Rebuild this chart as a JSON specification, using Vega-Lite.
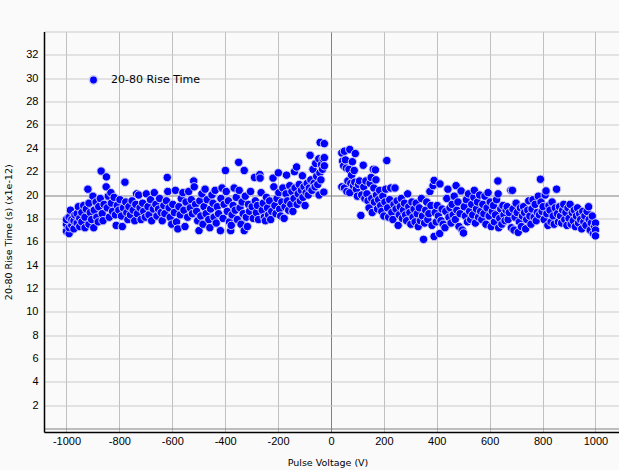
{"$schema":"https://vega.github.io/schema/vega-lite/v6.json","width":575,"height":400.5,"autosize":"none","padding":{"left":44,"top":31.5,"right":0,"bottom":38},"background":"#fafafa","config":{"view":{"stroke":null},"font":"DejaVu Sans"},
"data":{"values":[
{"v":-1000,"t":16.9},{"v":-1000,"t":17.5},{"v":-1000,"t":17.9},{"v":-990,"t":16.7},{"v":-990,"t":17.2},{"v":-990,"t":18.1},{"v":-985,"t":18.7},{"v":-980,"t":17.4},{"v":-980,"t":17.9},{"v":-972,"t":17.1},{"v":-972,"t":17.8},{"v":-968,"t":18.3},{"v":-960,"t":17.6},{"v":-960,"t":18.4},{"v":-955,"t":19.0},{"v":-950,"t":17.3},{"v":-950,"t":18.0},{"v":-942,"t":17.7},{"v":-942,"t":18.5},{"v":-935,"t":19.1},{"v":-930,"t":17.2},{"v":-930,"t":18.1},{"v":-925,"t":18.8},{"v":-919,"t":20.5},{"v":-915,"t":17.5},{"v":-915,"t":19.3},{"v":-910,"t":18.5},{"v":-905,"t":17.9},{"v":-900,"t":19.9},{"v":-897,"t":17.2},{"v":-895,"t":18.7},{"v":-888,"t":19.4},{"v":-885,"t":18.1},{"v":-880,"t":17.7},{"v":-878,"t":19.0},{"v":-872,"t":19.7},{"v":-869,"t":22.05},{"v":-865,"t":18.4},{"v":-862,"t":17.8},{"v":-858,"t":19.2},{"v":-850,"t":20.7},{"v":-849,"t":21.55},{"v":-846,"t":18.9},{"v":-842,"t":19.9},{"v":-838,"t":18.1},{"v":-832,"t":20.2},{"v":-830,"t":19.3},{"v":-826,"t":18.6},{"v":-820,"t":19.8},{"v":-815,"t":18.3},{"v":-812,"t":17.4},{"v":-808,"t":19.1},{"v":-802,"t":18.7},{"v":-798,"t":19.6},{"v":-792,"t":18.2},{"v":-789,"t":17.3},{"v":-785,"t":18.9},{"v":-779,"t":21.1},{"v":-776,"t":19.4},{"v":-772,"t":18.5},{"v":-768,"t":17.9},{"v":-764,"t":19.0},{"v":-758,"t":18.3},{"v":-752,"t":19.5},{"v":-748,"t":18.7},{"v":-742,"t":17.8},{"v":-738,"t":19.2},{"v":-735,"t":20.1},{"v":-732,"t":18.4},{"v":-727,"t":20.0},{"v":-722,"t":18.9},{"v":-718,"t":17.9},{"v":-712,"t":19.3},{"v":-708,"t":18.6},{"v":-702,"t":18.1},{"v":-698,"t":20.1},{"v":-692,"t":19.0},{"v":-688,"t":18.3},{"v":-682,"t":19.6},{"v":-678,"t":17.8},{"v":-672,"t":18.8},{"v":-668,"t":20.2},{"v":-662,"t":19.2},{"v":-658,"t":18.2},{"v":-652,"t":18.8},{"v":-648,"t":19.7},{"v":-642,"t":18.5},{"v":-638,"t":17.8},{"v":-632,"t":19.1},{"v":-628,"t":18.4},{"v":-622,"t":19.5},{"v":-619,"t":21.5},{"v":-617,"t":20.3},{"v":-612,"t":18.9},{"v":-608,"t":18.1},{"v":-602,"t":17.5},{"v":-598,"t":19.2},{"v":-592,"t":18.5},{"v":-588,"t":20.4},{"v":-584,"t":17.7},{"v":-579,"t":17.1},{"v":-575,"t":19.0},{"v":-570,"t":18.3},{"v":-566,"t":19.7},{"v":-560,"t":20.2},{"v":-556,"t":18.7},{"v":-552,"t":17.3},{"v":-548,"t":19.4},{"v":-542,"t":18.1},{"v":-538,"t":20.3},{"v":-532,"t":18.9},{"v":-528,"t":19.6},{"v":-524,"t":18.4},{"v":-519,"t":21.2},{"v":-517,"t":20.7},{"v":-512,"t":19.2},{"v":-508,"t":18.6},{"v":-504,"t":17.8},{"v":-499,"t":16.95},{"v":-496,"t":19.5},{"v":-492,"t":18.2},{"v":-488,"t":20.1},{"v":-484,"t":17.5},{"v":-480,"t":19.0},{"v":-476,"t":20.5},{"v":-472,"t":18.4},{"v":-468,"t":19.6},{"v":-462,"t":17.9},{"v":-458,"t":17.2},{"v":-455,"t":18.8},{"v":-450,"t":20.0},{"v":-446,"t":19.3},{"v":-442,"t":18.1},{"v":-438,"t":20.4},{"v":-434,"t":17.6},{"v":-430,"t":19.0},{"v":-425,"t":18.4},{"v":-418,"t":16.95},{"v":-416,"t":19.7},{"v":-412,"t":20.6},{"v":-408,"t":18.0},{"v":-404,"t":19.2},{"v":-399,"t":22.1},{"v":-396,"t":20.3},{"v":-392,"t":18.6},{"v":-388,"t":19.5},{"v":-384,"t":17.7},{"v":-379,"t":16.95},{"v":-377,"t":17.4},{"v":-374,"t":18.3},{"v":-370,"t":19.1},{"v":-366,"t":20.6},{"v":-362,"t":18.7},{"v":-358,"t":19.8},{"v":-354,"t":17.9},{"v":-349,"t":22.8},{"v":-347,"t":20.4},{"v":-344,"t":18.9},{"v":-340,"t":17.5},{"v":-336,"t":19.4},{"v":-332,"t":18.4},{"v":-328,"t":22.1},{"v":-328,"t":16.95},{"v":-324,"t":19.9},{"v":-320,"t":18.1},{"v":-316,"t":17.3},{"v":-312,"t":19.2},{"v":-308,"t":18.6},{"v":-304,"t":20.3},{"v":-298,"t":19.0},{"v":-294,"t":18.0},{"v":-289,"t":21.5},{"v":-286,"t":19.5},{"v":-282,"t":18.5},{"v":-278,"t":19.1},{"v":-274,"t":17.9},{"v":-269,"t":21.75},{"v":-268,"t":21.45},{"v":-264,"t":20.2},{"v":-260,"t":18.7},{"v":-256,"t":19.3},{"v":-252,"t":18.1},{"v":-248,"t":17.8},{"v":-244,"t":19.8},{"v":-240,"t":18.9},{"v":-236,"t":18.3},{"v":-232,"t":19.5},{"v":-228,"t":17.9},{"v":-224,"t":18.6},{"v":-219,"t":21.45},{"v":-216,"t":20.7},{"v":-212,"t":19.1},{"v":-208,"t":18.4},{"v":-204,"t":19.7},{"v":-199,"t":21.9},{"v":-197,"t":20.2},{"v":-194,"t":18.8},{"v":-190,"t":18.2},{"v":-186,"t":19.4},{"v":-182,"t":20.6},{"v":-177,"t":18.0},{"v":-174,"t":19.0},{"v":-170,"t":20.1},{"v":-168,"t":21.7},{"v":-165,"t":19.5},{"v":-160,"t":18.7},{"v":-156,"t":20.8},{"v":-152,"t":19.2},{"v":-148,"t":20.3},{"v":-144,"t":18.6},{"v":-140,"t":19.7},{"v":-138,"t":22.0},{"v":-136,"t":20.6},{"v":-130,"t":22.4},{"v":-128,"t":19.2},{"v":-124,"t":20.1},{"v":-120,"t":20.9},{"v":-116,"t":19.5},{"v":-112,"t":20.4},{"v":-108,"t":21.65},{"v":-106,"t":19.8},{"v":-102,"t":20.7},{"v":-98,"t":19.1},{"v":-94,"t":20.2},{"v":-90,"t":21.0},{"v":-86,"t":20.0},{"v":-82,"t":20.6},{"v":-79,"t":23.4},{"v":-76,"t":21.3},{"v":-72,"t":20.4},{"v":-68,"t":22.2},{"v":-64,"t":21.0},{"v":-60,"t":20.7},{"v":-58,"t":22.7},{"v":-54,"t":21.6},{"v":-50,"t":20.9},{"v":-46,"t":23.1},{"v":-45,"t":20.0},{"v":-42,"t":21.9},{"v":-41,"t":24.5},{"v":-38,"t":21.3},{"v":-36,"t":22.6},{"v":-32,"t":22.2},{"v":-30,"t":23.1},{"v":-27,"t":20.25},{"v":-25,"t":24.4},{"v":-25,"t":23.2},{"v":-25,"t":22.5},
{"v":41,"t":23.6},{"v":41,"t":20.7},{"v":44,"t":22.9},{"v":48,"t":22.5},{"v":51,"t":23.75},{"v":51,"t":20.6},{"v":55,"t":23.0},{"v":58,"t":22.3},{"v":60,"t":20.3},{"v":64,"t":21.2},{"v":68,"t":22.2},{"v":71,"t":23.9},{"v":71,"t":20.2},{"v":75,"t":21.0},{"v":78,"t":21.7},{"v":81,"t":22.85},{"v":85,"t":20.8},{"v":88,"t":22.1},{"v":90,"t":21.1},{"v":92,"t":23.55},{"v":96,"t":20.5},{"v":100,"t":19.9},{"v":104,"t":20.9},{"v":108,"t":21.2},{"v":113,"t":18.25},{"v":116,"t":20.0},{"v":122,"t":22.55},{"v":124,"t":20.7},{"v":128,"t":19.7},{"v":132,"t":21.2},{"v":136,"t":20.1},{"v":140,"t":19.5},{"v":144,"t":18.9},{"v":148,"t":21.0},{"v":152,"t":21.5},{"v":154,"t":19.7},{"v":156,"t":18.5},{"v":160,"t":22.2},{"v":162,"t":20.6},{"v":164,"t":19.4},{"v":168,"t":22.15},{"v":170,"t":21.3},{"v":172,"t":20.0},{"v":176,"t":18.8},{"v":180,"t":19.6},{"v":184,"t":20.4},{"v":188,"t":19.1},{"v":192,"t":18.6},{"v":196,"t":19.9},{"v":200,"t":18.2},{"v":204,"t":19.4},{"v":207,"t":20.5},{"v":211,"t":22.95},{"v":214,"t":18.9},{"v":218,"t":18.1},{"v":222,"t":19.6},{"v":226,"t":20.6},{"v":230,"t":18.5},{"v":234,"t":17.9},{"v":238,"t":19.2},{"v":242,"t":20.6},{"v":246,"t":18.8},{"v":250,"t":19.5},{"v":254,"t":17.4},{"v":258,"t":18.3},{"v":262,"t":19.0},{"v":266,"t":19.7},{"v":270,"t":18.0},{"v":274,"t":18.7},{"v":278,"t":19.3},{"v":282,"t":18.3},{"v":286,"t":17.8},{"v":290,"t":20.1},{"v":294,"t":19.0},{"v":298,"t":18.5},{"v":302,"t":17.5},{"v":306,"t":19.4},{"v":310,"t":18.1},{"v":314,"t":18.8},{"v":318,"t":17.7},{"v":322,"t":19.3},{"v":326,"t":18.4},{"v":330,"t":17.3},{"v":334,"t":18.9},{"v":338,"t":17.8},{"v":342,"t":19.7},{"v":346,"t":18.2},{"v":350,"t":16.2},{"v":354,"t":17.6},{"v":358,"t":18.7},{"v":362,"t":19.4},{"v":366,"t":17.9},{"v":370,"t":18.4},{"v":374,"t":20.3},{"v":378,"t":19.1},{"v":382,"t":17.4},{"v":386,"t":20.8},{"v":390,"t":21.25},{"v":390,"t":16.45},{"v":394,"t":18.5},{"v":398,"t":17.7},{"v":402,"t":19.1},{"v":406,"t":18.2},{"v":411,"t":16.7},{"v":412,"t":20.95},{"v":416,"t":17.8},{"v":420,"t":18.8},{"v":424,"t":17.5},{"v":431,"t":17.2},{"v":434,"t":18.6},{"v":438,"t":19.7},{"v":442,"t":20.5},{"v":446,"t":18.1},{"v":450,"t":18.9},{"v":454,"t":17.6},{"v":458,"t":19.2},{"v":462,"t":18.3},{"v":466,"t":19.9},{"v":470,"t":17.9},{"v":473,"t":20.8},{"v":476,"t":18.7},{"v":480,"t":19.4},{"v":484,"t":17.3},{"v":488,"t":18.4},{"v":492,"t":20.35},{"v":496,"t":17.0},{"v":501,"t":16.75},{"v":504,"t":19.0},{"v":508,"t":18.2},{"v":512,"t":19.6},{"v":516,"t":17.7},{"v":520,"t":20.1},{"v":524,"t":18.6},{"v":528,"t":17.9},{"v":532,"t":19.2},{"v":536,"t":18.3},{"v":540,"t":19.8},{"v":542,"t":20.4},{"v":546,"t":17.6},{"v":550,"t":18.8},{"v":554,"t":19.4},{"v":558,"t":18.1},{"v":562,"t":20.0},{"v":566,"t":18.6},{"v":570,"t":17.9},{"v":574,"t":19.2},{"v":578,"t":18.4},{"v":582,"t":19.9},{"v":586,"t":17.5},{"v":590,"t":18.9},{"v":594,"t":20.2},{"v":598,"t":18.2},{"v":602,"t":19.4},{"v":606,"t":17.3},{"v":610,"t":18.6},{"v":614,"t":19.1},{"v":618,"t":17.7},{"v":622,"t":18.3},{"v":626,"t":19.6},{"v":631,"t":21.2},{"v":632,"t":20.1},{"v":634,"t":17.2},{"v":638,"t":18.0},{"v":642,"t":18.8},{"v":646,"t":17.5},{"v":650,"t":19.1},{"v":654,"t":18.3},{"v":658,"t":17.8},{"v":662,"t":18.7},{"v":666,"t":19.0},{"v":670,"t":17.9},{"v":674,"t":18.5},{"v":680,"t":20.4},{"v":682,"t":17.2},{"v":686,"t":20.4},{"v":688,"t":18.8},{"v":692,"t":17.0},{"v":696,"t":18.1},{"v":700,"t":19.3},{"v":704,"t":18.5},{"v":708,"t":16.8},{"v":712,"t":17.7},{"v":716,"t":18.9},{"v":720,"t":17.3},{"v":724,"t":18.2},{"v":728,"t":19.0},{"v":732,"t":18.5},{"v":736,"t":17.1},{"v":740,"t":17.9},{"v":744,"t":18.7},{"v":748,"t":19.5},{"v":752,"t":18.2},{"v":756,"t":17.5},{"v":760,"t":18.8},{"v":764,"t":19.6},{"v":768,"t":18.1},{"v":772,"t":19.2},{"v":776,"t":17.8},{"v":780,"t":18.5},{"v":784,"t":19.9},{"v":788,"t":18.3},{"v":792,"t":21.35},{"v":794,"t":19.4},{"v":798,"t":18.6},{"v":802,"t":19.0},{"v":806,"t":17.9},{"v":810,"t":20.0},{"v":813,"t":20.35},{"v":816,"t":18.4},{"v":820,"t":17.4},{"v":824,"t":19.1},{"v":828,"t":18.7},{"v":832,"t":17.7},{"v":836,"t":19.4},{"v":840,"t":18.2},{"v":844,"t":17.5},{"v":848,"t":18.9},{"v":853,"t":20.5},{"v":856,"t":18.4},{"v":860,"t":17.7},{"v":864,"t":19.0},{"v":868,"t":18.2},{"v":872,"t":17.6},{"v":876,"t":18.7},{"v":880,"t":19.2},{"v":884,"t":17.9},{"v":888,"t":18.5},{"v":892,"t":17.4},{"v":896,"t":18.9},{"v":900,"t":18.0},{"v":904,"t":19.2},{"v":908,"t":17.5},{"v":912,"t":18.5},{"v":916,"t":17.8},{"v":920,"t":18.7},{"v":924,"t":17.3},{"v":928,"t":18.2},{"v":932,"t":18.9},{"v":936,"t":17.6},{"v":940,"t":18.4},{"v":944,"t":17.9},{"v":948,"t":17.1},{"v":952,"t":18.6},{"v":956,"t":17.7},{"v":960,"t":18.2},{"v":964,"t":17.4},{"v":968,"t":18.6},{"v":974,"t":19.0},{"v":976,"t":17.9},{"v":980,"t":17.0},{"v":984,"t":17.6},{"v":988,"t":18.2},{"v":992,"t":16.7},{"v":996,"t":17.3},{"v":1000,"t":17.6},{"v":1000,"t":17.0},{"v":1000,"t":16.5}
]},
"mark":{"type":"point","filled":true,"opacity":1,"size":70,"stroke":"#cfcff5","strokeWidth":1},
"encoding":{
"x":{"field":"v","type":"quantitative","title":"Pulse Voltage (V)","scale":{"domain":[-1085,1089],"nice":false,"zero":false},
"axis":{"values":[-1000,-800,-600,-400,-200,0,200,400,600,800,1000],"labelExpr":"replace(format(datum.value,'d'),'\u2212','-')","labelOverlap":false,"grid":true,"gridColor":{"condition":{"test":"datum.value===0","value":"#808080"},"value":"#c0c0c0"},"tickSize":0,"domainColor":"#000000","domainWidth":1.5,"labelPadding":3,"labelFont":"Liberation Sans","labelFontSize":11,"labelColor":"#000000","titleFont":"DejaVu Sans","titleFontSize":9.5,"titleFontWeight":"normal","titleColor":"#000000","titlePadding":11,"titleX":283.5}},
"y":{"field":"t","type":"quantitative","title":"20-80 Rise Time (s) (x1e-12)","scale":{"domain":[-0.29,34],"nice":false,"zero":false},
"axis":{"values":[0,2,4,6,8,10,12,14,16,18,20,22,24,26,28,30,32,34],"labelExpr":"datum.value==34||datum.value==0?'':datum.label","labelOverlap":false,"grid":true,"gridColor":{"condition":{"test":"datum.value===0||datum.value===20","value":"#808080"},"value":"#cacaca"},"tickSize":0,"domainColor":"#000000","domainWidth":1.5,"labelPadding":6,"labelFont":"Liberation Sans","labelFontSize":11,"labelColor":"#000000","titleFont":"DejaVu Sans","titleFontSize":9.5,"titleFontWeight":"normal","titleColor":"#000000","titlePadding":12}},
"color":{"datum":"20-80 Rise Time","scale":{"range":["#0000ff"]},"legend":{"title":null,"orient":"none","legendX":44,"legendY":43,"symbolType":"circle","symbolSize":70,"symbolStrokeColor":"#cfcff5","labelFont":"DejaVu Sans","labelFontSize":11,"labelColor":"#000000","labelOffset":12}}}}
